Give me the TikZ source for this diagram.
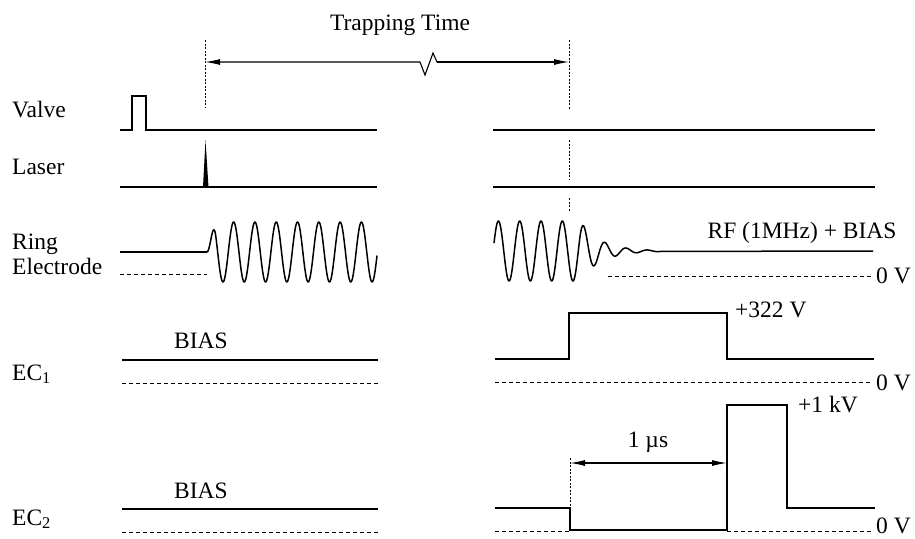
\documentclass[tikz,border=0pt]{standalone}
\usepackage{fontspec}
\setmainfont{Liberation Serif}
\usetikzlibrary{arrows.meta}
\begin{document}
\begin{tikzpicture}[x=1pt,y=-1pt,
  sig/.style={line width=1.5pt, line join=miter},
  zero/.style={line width=0.9pt, dash pattern=on 4pt off 3pt},
  markline/.style={line width=0.9pt, dash pattern=on 2pt off 1.5pt},
  dim/.style={line width=1.1pt, {Latex[length=15pt,width=6pt]}-{Latex[length=15pt,width=6pt]}},
  txt/.style={font=\fontsize{23.5}{25}\selectfont, inner sep=0pt, anchor=base},
  lab/.style={txt, anchor=base west}]
\useasboundingbox (0,0) rectangle (915,538);

% labels
\node[txt] (tt) at (400,30) {Trapping Time};
\node[lab] (lv) at (12,117) {Valve};
\node[lab] (ll) at (12,174) {Laser};
\node[lab] (lr) at (12,249) {Ring};
\node[lab] (le) at (12,274) {Electrode};
\node[lab] (l1) at (12,380) {EC\textsubscript{1}};
\node[lab] (l2) at (12,525) {EC\textsubscript{2}};
\node[txt] (b1) at (201,348) {BIAS};
\node[txt] (b2) at (201,498) {BIAS};
\node[txt] (rf) at (802,238) {RF (1MHz) + BIAS};
\node[lab] (z0) at (876,283) {0 V};
\node[lab] (z1) at (876,390) {0 V};
\node[lab] (z2) at (876,533) {0 V};
\node[lab] (v322) at (735,317) {+322 V};
\node[lab] (v1k) at (798,412) {+1 kV};
\node[txt] (us) at (648,447) {1 µs};

% marker lines
\draw[markline] (205,40) -- (205,107);
\draw[markline] (569,40) -- (569,110);
\draw[markline] (569,140) -- (569,180);
\draw[markline] (569,198) -- (569,211);
\draw[markline] (570,458) -- (570,508);

% trapping time arrow
\coordinate (ta) at (205,62);
\coordinate (tb) at (569,62);
\draw[line width=1.1pt, {Latex[length=15pt,width=6pt]}-] (ta) -- (420,62) -- (425,75) -- (433,53) -- (437,62) -- (458,62);
\draw[line width=1.1pt, -{Latex[length=15pt,width=6pt]}] (437,62) -- (tb);

% valve
\draw[sig] (120,130) -- (132,130) -- (132,96) -- (146,96) -- (146,130) -- (377,130);
\draw[sig] (493,130) -- (875,130);
% laser
\draw[sig] (120,187) -- (377,187);
\fill (203,187) -- (205.5,140) -- (208.5,187) -- cycle;
\draw[sig] (493,187) -- (875,187);

% ring electrode
\draw[sig] (120,252) -- (207,252);
\draw[sig, line join=round] plot[domain=207:377, samples=300, smooth] (\x, {252 - min(30,3.6*(\x-207))*sin(360*((\x-207)/21.3))});
\draw[zero] (120,274) -- (207,274);
\draw[sig, line join=round] plot[domain=494:660, samples=300, smooth] (\x, {251 - 30*exp(-max(0,\x-580)/20)*sin(360*((\x-557)/21.3))}) -- (873,251);
\draw[zero] (608,276) -- (872,276);

% EC1
\draw[sig] (122,360) -- (378,360);
\draw[zero] (122,383) -- (378,383);
\draw[sig] (495,359) -- (569,359) -- (569,313) -- (727,313) -- (727,359) -- (874,359);
\draw[zero] (495,382) -- (872,382);

% EC2
\draw[sig] (122,509) -- (378,509);
\draw[zero] (122,532) -- (378,532);
\draw[zero] (495,531) -- (570,531);
\draw[zero] (727,531) -- (872,531);
\draw[sig] (495,508) -- (570,508) -- (570,530) -- (727,530) -- (727,405) -- (787,405) -- (787,508) -- (875,508);

% 1 us arrow
\coordinate (ua) at (570,463);
\coordinate (ub) at (727,463);
\draw[dim] (ua) -- (ub);
\end{tikzpicture}
\end{document}
